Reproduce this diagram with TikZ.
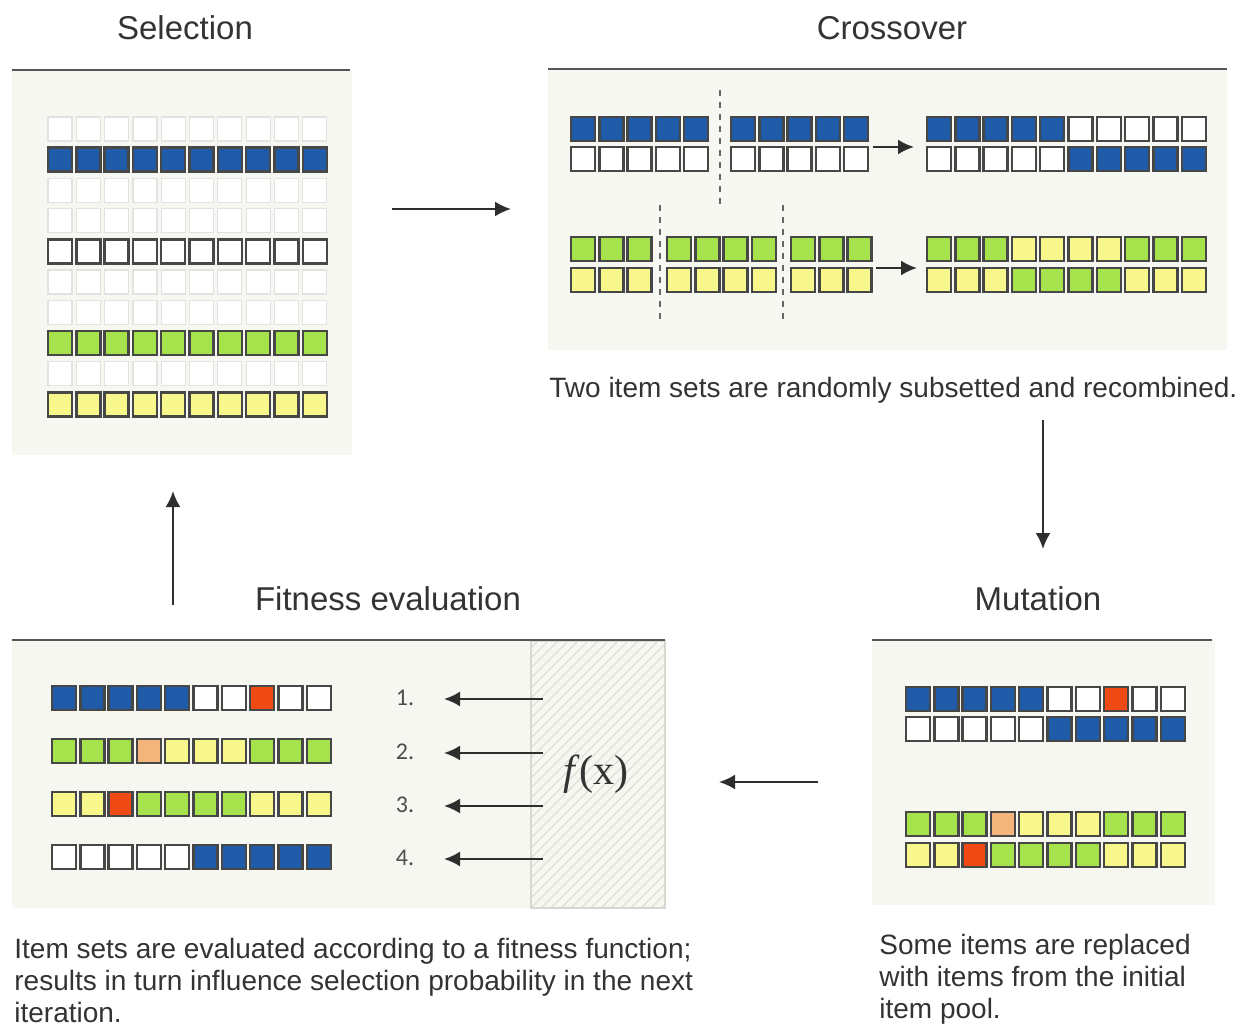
\documentclass[tikz,border=0pt]{standalone}
\usepackage{fontspec}
\setmainfont{Liberation Sans}
\newfontfamily\numfont{Carlito}
\newfontfamily\fxfont{Liberation Serif}
\usepackage{xcolor}
\usepackage{tikz}
\usetikzlibrary{arrows.meta}

\definecolor{cB}{HTML}{1F5BA8}
\definecolor{cW}{HTML}{FFFFFF}
\definecolor{cG}{HTML}{A6E24C}
\definecolor{cY}{HTML}{F8F78C}
\definecolor{cR}{HTML}{F04A14}
\definecolor{cO}{HTML}{F4B57A}
\definecolor{panelbg}{HTML}{F7F7F1}
\definecolor{cellline}{HTML}{474747}
\definecolor{faintline}{HTML}{E2E2E2}
\definecolor{ruleline}{HTML}{555555}
\definecolor{textgray}{HTML}{333333}
\definecolor{arrowgray}{HTML}{2E2E2E}
\definecolor{cutgray}{HTML}{666666}
\definecolor{hatchgray}{HTML}{D8D8D0}

% one row of item squares: [style]{x}{y}{colours}
\newcommand{\itemrow}[4][cell]{%
	\foreach \col [count=\i from 0] in {#4}
		{\draw[#1, fill=\col] ({#2+\i*28.3},#3) rectangle ++(24,24);}
}

\begin{document}
\begin{tikzpicture}[x = 0.5pt, y = -0.5pt,
	cell/.style = {draw = cellline, line width = 1.2pt},
	faint/.style = {draw = faintline, line width = 0.6pt},
	rule/.style = {draw = ruleline, line width = 1.2pt},
	title/.style = {font = \fontsize{16.5}{20}\selectfont, text = textgray, anchor = base},
	caption/.style = {font = \fontsize{14}{16}\selectfont, text = textgray, align = left, anchor = north west, inner sep = 0},
	rank/.style = {font = \numfont\fontsize{12}{14}\selectfont, text = black!70},
	flow/.style = {draw = arrowgray, line width = 1.1pt, -{Latex[length = 8pt, width = 7.5pt]}},
	cut/.style = {draw = cutgray, line width = 0.8pt, dash pattern = on 3pt off 3pt}]
	\useasboundingbox (0,0) rectangle (1241,1026);

	% panels
	\fill[panelbg] (12,70) rectangle (352,455);
	\fill[panelbg] (548,70) rectangle (1227,350);
	\fill[panelbg] (12,640) rectangle (665,908);
	\fill[panelbg] (872,640) rectangle (1215,905);
	\begin{scope}
		\clip (531,641) rectangle (665,908);
		\foreach \k in {0,10,...,420}
			\draw[hatchgray, line width = 0.5pt] (261+\k,908) -- ++(270,-270);
	\end{scope}
	\draw[hatchgray, line width = 0.6pt] (531,641) rectangle (665,908);
	\draw[rule] (12,70) -- (350,70);
	\draw[rule] (548,69) -- (1227,69);
	\draw[rule] (12,640) -- (665,640);
	\draw[rule] (872,640) -- (1212,640);

	% titles
	\node[title] (seltitle) at (185,40) {Selection};
	\node[title] (crosstitle) at (892,40) {Crossover};
	\node[title] (fittitle) at (388,610) {Fitness evaluation};
	\node[title] (muttitle) at (1038,610) {Mutation};

	% selection
	\foreach \r in {0,2,3,5,6,8} {
		\itemrow[faint]{48}{117+\r*30.6}{cW,cW,cW,cW,cW,cW,cW,cW,cW,cW}
	}
	\itemrow{48}{147.6}{cB,cB,cB,cB,cB,cB,cB,cB,cB,cB}
	\itemrow{48}{239.4}{cW,cW,cW,cW,cW,cW,cW,cW,cW,cW}
	\itemrow{48}{331.2}{cG,cG,cG,cG,cG,cG,cG,cG,cG,cG}
	\itemrow{48}{392.4}{cY,cY,cY,cY,cY,cY,cY,cY,cY,cY}

	% crossover
	\itemrow{571}{117}{cB,cB,cB,cB,cB}
	\itemrow{731}{117}{cB,cB,cB,cB,cB}
	\itemrow{571}{147}{cW,cW,cW,cW,cW}
	\itemrow{731}{147}{cW,cW,cW,cW,cW}
	\itemrow{927}{117}{cB,cB,cB,cB,cB,cW,cW,cW,cW,cW}
	\itemrow{927}{147}{cW,cW,cW,cW,cW,cB,cB,cB,cB,cB}
	\itemrow{571}{237}{cG,cG,cG}
	\itemrow{667}{237}{cG,cG,cG,cG}
	\itemrow{791}{237}{cG,cG,cG}
	\itemrow{571}{268}{cY,cY,cY}
	\itemrow{667}{268}{cY,cY,cY,cY}
	\itemrow{791}{268}{cY,cY,cY}
	\itemrow{927}{237}{cG,cG,cG,cY,cY,cY,cY,cG,cG,cG}
	\itemrow{927}{268}{cY,cY,cY,cG,cG,cG,cG,cY,cY,cY}
	\draw[cut] (720,90) -- (720,210);
	\draw[cut] (660,205) -- (660,322);
	\draw[cut] (783,205) -- (783,322);
	\coordinate (xa1) at (873,147);
	\coordinate (xb1) at (914,147);
	\coordinate (xa2) at (876,268);
	\coordinate (xb2) at (917,268);
	\draw[flow] (xa1) -- (xb1);
	\draw[flow] (xa2) -- (xb2);
	\node[caption] (crosscap) at (549,377) {Two item sets are randomly subsetted and recombined.};

	% mutation
	\itemrow{906}{687}{cB,cB,cB,cB,cB,cW,cW,cR,cW,cW}
	\itemrow{906}{717}{cW,cW,cW,cW,cW,cB,cB,cB,cB,cB}
	\itemrow{906}{812}{cG,cG,cG,cO,cY,cY,cY,cG,cG,cG}
	\itemrow{906}{843}{cY,cY,cR,cG,cG,cG,cG,cY,cY,cY}
	\node[caption] (mutcap) at (879,934) {Some items are replaced\\with items from the initial\\item pool.};

	% fitness evaluation
	\itemrow{52}{686}{cB,cB,cB,cB,cB,cW,cW,cR,cW,cW}
	\itemrow{52}{739}{cG,cG,cG,cO,cY,cY,cY,cG,cG,cG}
	\itemrow{52}{792}{cY,cY,cR,cG,cG,cG,cG,cY,cY,cY}
	\itemrow{52}{845}{cW,cW,cW,cW,cW,cB,cB,cB,cB,cB}
	\node[font = \fxfont\fontsize{21}{24}\selectfont, text = textgray] (fx) at (596,774) {\textit{f}(x)};
	\foreach \n/\y in {1/699,2/753,3/806,4/859} {
		\node[rank] (rank\n) at (405,\y-1) {\n.};
		\coordinate (src\n) at (543,\y);
		\coordinate (dst\n) at (444,\y);
		\draw[flow] (src\n) -- (dst\n);
	}
	\node[caption] (fitcap) at (14,938) {Item sets are evaluated according to a fitness function;\\results in turn influence selection probability in the next\\iteration.};

	% cycle
	\coordinate (selout) at (392,209);
	\coordinate (crossin) at (511,209);
	\coordinate (crossout) at (1043,420);
	\coordinate (mutin) at (1043,549);
	\coordinate (mutout) at (818,782);
	\coordinate (fitin) at (719,782);
	\coordinate (fitout) at (173,605);
	\coordinate (selin) at (173,491);
	\draw[flow] (selout) -- (crossin);
	\draw[flow] (crossout) -- (mutin);
	\draw[flow] (mutout) -- (fitin);
	\draw[flow] (fitout) -- (selin);
\end{tikzpicture}
\end{document}
